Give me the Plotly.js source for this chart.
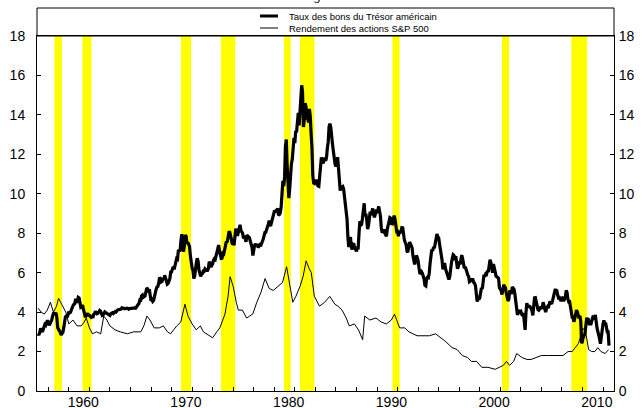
<!DOCTYPE html>
<html>
<head>
<meta charset="utf-8">
<script src="https://cdn.plot.ly/plotly-3.0.1.min.js"></script>
<style>
html,body{margin:0;padding:0;background:#fff;}
#chart{width:644px;height:408px;}
</style>
</head>
<body>
<div id="chart"></div>
<script>
// Recession periods
var recStart = [1957.6, 1960.33, 1969.92, 1973.8, 1979.95, 1981.5, 1990.5, 2001.17, 2007.92];
var recEnd   = [1958.33, 1961.2, 1970.9, 1975.2, 1980.6, 1982.9, 1991.2, 2001.85, 2009.45];

// US Treasury yield (%), monthly, from January 1956 (one row per year)
var tStartYear = 1956;
var tValues = [
2.90,2.84,2.96,3.18,3.07,3.00,3.11,3.33,3.38,3.34,3.49,3.59,
3.46,3.34,3.41,3.48,3.60,3.80,3.93,3.93,3.92,3.97,3.72,3.21,
3.09,3.05,2.98,2.84,2.92,2.97,3.20,3.54,3.76,3.80,3.74,3.86,
4.02,3.96,3.99,4.12,4.31,4.34,4.40,4.43,4.68,4.53,4.53,4.75,
4.72,4.49,4.25,4.28,4.35,4.15,3.90,3.80,3.80,3.89,3.93,3.84,
3.84,3.78,3.74,3.78,3.71,3.88,3.92,4.04,3.98,3.92,3.94,4.06,
4.08,4.04,3.93,3.84,3.87,3.91,4.01,3.98,3.98,3.93,3.92,3.86,
3.83,3.92,3.93,3.97,3.93,3.99,4.02,4.00,4.08,4.11,4.12,4.13,
4.17,4.15,4.22,4.23,4.20,4.17,4.19,4.19,4.20,4.19,4.15,4.18,
4.19,4.21,4.21,4.20,4.21,4.21,4.20,4.25,4.29,4.35,4.45,4.62,
4.61,4.83,4.87,4.75,4.78,4.81,5.02,5.22,5.18,5.01,5.16,4.84,
4.58,4.63,4.54,4.59,4.85,5.02,5.16,5.28,5.30,5.48,5.75,5.70,
5.53,5.56,5.74,5.64,5.87,5.72,5.50,5.42,5.46,5.58,5.70,6.03,
6.04,6.19,6.30,6.17,6.32,6.57,6.72,6.69,7.16,7.10,7.14,7.65,
7.95,7.24,7.07,7.39,7.91,7.84,7.46,7.53,7.39,7.33,6.84,6.39,
6.24,6.11,5.70,5.83,6.39,6.52,6.73,6.58,6.14,5.93,5.81,5.93,
5.95,6.08,6.07,6.19,6.13,6.11,6.11,6.21,6.55,6.48,6.28,6.36,
6.46,6.64,6.71,6.67,6.85,6.90,7.13,7.40,7.09,6.79,6.73,6.74,
6.99,6.96,7.21,7.51,7.58,7.54,7.81,8.04,8.04,7.90,7.68,7.43,
7.50,7.39,7.73,8.23,8.06,7.86,8.06,8.40,8.43,8.14,8.05,8.00,
7.74,7.79,7.73,7.56,7.90,7.86,7.83,7.77,7.59,7.41,7.29,6.87,
7.21,7.39,7.46,7.37,7.46,7.28,7.33,7.40,7.34,7.52,7.58,7.69,
7.96,8.03,8.04,8.15,8.35,8.46,8.64,8.41,8.42,8.64,8.81,9.01,
9.10,9.10,9.12,9.18,9.25,8.91,8.95,9.03,9.33,10.30,10.65,10.39,
10.80,12.41,12.75,11.47,10.18,9.78,10.25,11.10,11.51,11.75,12.68,12.84,
12.57,13.19,13.12,13.68,14.10,13.47,14.28,14.94,15.50,15.15,13.39,13.72,
14.59,14.43,13.86,13.87,13.62,14.30,13.95,13.06,12.34,10.91,10.55,10.54,
10.46,10.72,10.51,10.40,10.38,10.85,11.38,11.85,11.65,11.54,11.69,11.83,
11.67,11.84,12.32,12.63,13.41,13.56,13.36,12.72,12.52,12.16,11.57,11.50,
11.38,11.51,11.86,11.43,10.85,10.16,10.31,10.33,10.37,10.24,9.78,9.26,
9.19,8.70,7.78,7.30,7.71,7.80,7.30,7.17,7.45,7.43,7.25,7.11,
7.08,7.25,7.25,8.02,8.61,8.40,8.45,8.76,9.42,9.52,8.86,8.99,
8.67,8.21,8.37,8.72,9.09,8.92,9.06,9.26,8.98,8.80,8.96,9.11,
9.09,9.17,9.36,9.18,8.86,8.28,8.02,8.11,8.19,8.01,7.87,7.84,
8.21,8.47,8.59,8.79,8.76,8.48,8.47,8.75,8.89,8.72,8.39,8.08,
8.09,7.85,8.11,8.04,8.07,8.28,8.27,7.90,7.65,7.53,7.42,7.09,
7.03,7.34,7.54,7.48,7.39,7.26,6.84,6.59,6.42,6.59,6.87,6.77,
6.60,6.26,5.98,5.97,6.04,5.96,5.81,5.68,5.36,5.33,5.72,5.77,
5.75,5.97,6.48,6.97,7.18,7.10,7.30,7.24,7.46,7.74,7.96,7.81,
7.78,7.47,7.20,7.06,6.63,6.17,6.28,6.49,6.20,6.04,5.93,5.71,
5.65,5.81,6.27,6.51,6.74,6.91,6.87,6.64,6.83,6.53,6.20,6.30,
6.58,6.42,6.69,6.89,6.71,6.49,6.22,6.30,6.21,6.03,5.88,5.81,
5.54,5.57,5.65,5.64,5.65,5.50,5.46,5.34,4.81,4.53,4.83,4.65,
4.72,5.00,5.23,5.18,5.54,5.90,5.79,5.94,5.92,6.11,6.03,6.28,
6.66,6.52,6.26,5.99,6.44,6.10,6.05,5.83,5.80,5.74,5.72,5.24,
5.16,5.10,4.89,5.14,5.39,5.28,5.24,4.97,4.73,4.57,4.65,5.09,
5.04,4.91,5.28,5.21,5.16,4.93,4.65,4.26,3.87,3.94,4.05,4.03,
4.05,3.90,3.81,3.96,3.57,3.10,3.98,4.45,4.27,4.29,4.30,4.27,
4.15,4.08,3.83,4.35,4.72,4.73,4.50,4.28,4.13,4.10,4.19,4.23,
4.22,4.17,4.50,4.34,4.14,4.00,4.18,4.26,4.20,4.46,4.54,4.47,
4.42,4.57,4.72,4.99,5.11,5.11,5.09,4.88,4.72,4.73,4.60,4.56,
4.76,4.72,4.56,4.69,4.75,5.10,5.00,4.67,4.52,4.53,4.15,4.10,
3.74,3.74,3.51,3.68,3.88,4.10,4.01,3.89,3.69,3.81,3.53,2.42,
2.52,2.87,2.82,2.93,3.29,3.72,3.56,3.59,3.40,3.39,3.40,3.59,
3.73,3.69,3.73,3.85,3.42,3.20,3.01,2.70,2.65,2.40,2.76,3.29,
3.39,3.58,3.41,3.46,3.17,3.00,3.00,2.30];

// S&P 500 dividend yield (%)
var dYears = [1956.0,1956.3,1956.6,1956.9,1957.2,1957.5,1957.8,1958.0,1958.3,1958.7,1959.0,1959.4,1959.8,1960.2,1960.5,1960.7,1961.0,1961.3,1961.7,1962.1,1962.4,1962.7,1963.0,
1963.5,1964.0,1964.7,1965.3,1966.0,1966.3,1966.6,1966.9,1967.3,1967.8,1968.2,1968.6,1968.9,1969.2,1969.5,1969.9,1970.3,1970.6,1971.0,1971.4,1971.8,1972.1,1972.4,1972.7,1973.0,
1973.4,1973.7,1974.2,1974.5,1974.7,1975.0,1975.3,1975.5,1975.9,1976.3,1976.6,1976.9,1977.3,1977.7,1978.1,1978.5,1978.9,1979.3,1979.8,1980.2,1980.5,1980.8,1981.1,1981.5,1981.8,1982.1,1982.4,1982.6,1982.9,
1983.4,1983.9,1984.4,1984.9,1985.2,1985.6,1986.0,1986.3,1986.8,1987.2,1987.6,1987.8,1988.3,1988.9,1989.4,1989.9,1990.4,1990.7,1991.2,1991.7,1992.1,1992.9,
1993.5,1994.1,1994.7,1995.2,1995.7,1996.3,1996.8,1997.3,1997.8,1998.2,1998.7,1999.2,1999.8,2000.5,2001.0,2001.3,2001.6,2001.9,2002.3,2002.6,2003.1,
2003.6,2004.0,2004.5,2005.0,2005.6,2006.1,2006.6,2007.1,2007.6,2008.0,2008.3,2008.6,2008.9,2009.0,2009.3,2009.6,2009.9,2010.2,2010.5,2010.8,2011.2,2011.55];
var dValues = [4.2,4.0,3.9,4.1,4.5,4.0,4.3,4.7,4.4,4.0,3.4,3.6,3.3,3.3,3.5,3.7,3.2,2.9,3.0,2.9,3.8,3.6,3.3,
3.1,3.0,2.9,3.0,3.0,3.3,3.8,3.6,3.2,3.2,3.3,3.0,2.9,3.1,3.3,3.5,4.4,3.8,3.4,3.1,3.3,3.0,2.9,2.8,2.7,
3.0,3.2,3.9,4.8,5.8,5.3,4.5,4.1,4.1,3.7,3.8,3.9,4.5,5.0,5.7,5.2,5.1,5.3,5.5,6.3,5.3,4.5,4.8,5.3,5.8,6.6,6.2,6.0,4.8,
4.3,4.5,4.8,4.4,4.3,4.1,3.7,3.3,3.4,3.1,2.6,3.8,3.6,3.7,3.5,3.4,3.6,3.9,3.2,3.2,3.0,2.8,
2.8,2.8,2.9,2.7,2.5,2.2,2.1,1.8,1.7,1.5,1.5,1.2,1.2,1.1,1.2,1.3,1.5,1.3,1.5,1.9,1.7,
1.6,1.6,1.7,1.8,1.8,1.8,1.8,1.8,2.0,2.0,2.2,2.4,2.9,3.2,3.0,2.1,2.0,2.0,2.2,2.0,1.9,2.1];

// Axis labels
var yTickVals = [0,2,4,6,8,10,12,14,16,18];
var xTickVals = [1960.4,1970.4,1980.4,1990.4,2000.4,2010.4];
var xTickText = ['1960','1970','1980','1990','2000','2010'];
var xMinorTicks = [1957,1959,1961,1963,1965,1967,1969,1971,1973,1975,1977,1979,1981,1983,1985,1987,1989,1991,1993,1995,1997,1999,2001,2003,2005,2007,2009,2011];

var legendNames = ['Taux des bons du Trésor américain', 'Rendement des actions S&P 500'];
var titleText = 'Rendements à long terme';

var tYears = tValues.map(function (v, i) { return tStartYear + i / 12; });

var FONT = 'Liberation Sans, Arial, sans-serif';

var traces = [
  {x: tYears, y: tValues, type: 'scatter', mode: 'lines', name: legendNames[0],
   line: {color: '#000', width: 3.2}, showlegend: false},
  {x: dYears, y: dValues, type: 'scatter', mode: 'lines', name: legendNames[1],
   line: {color: '#000', width: 1}, showlegend: false},
  {x: [1956], y: [0], yaxis: 'y2', type: 'scatter', mode: 'markers', marker: {opacity: 0}, showlegend: false, hoverinfo: 'skip'}
];

var shapes = [];
for (var i = 0; i < recStart.length; i++) {
  shapes.push({type: 'rect', xref: 'x', yref: 'paper', x0: recStart[i], x1: recEnd[i], y0: 0, y1: 1,
    fillcolor: '#FFFF00', line: {width: 0}, layer: 'below'});
}
var plotH = 408 - 36 - 17;
shapes.push({type: 'rect', xref: 'paper', yref: 'paper', x0: 0, x1: 1, y0: 1, y1: 1 + 28/plotH,
  line: {color: '#000', width: 1}, fillcolor: 'rgba(0,0,0,0)'});
var sx0 = (260 - 37) / 577, sx1 = (278 - 37) / 577;
shapes.push({type: 'line', xref: 'paper', yref: 'paper', x0: sx0, x1: sx1, y0: 1 + (36-16)/plotH, y1: 1 + (36-16)/plotH,
  line: {color: '#000', width: 3}});
shapes.push({type: 'line', xref: 'paper', yref: 'paper', x0: sx0, x1: sx1, y0: 1 + (36-28)/plotH, y1: 1 + (36-28)/plotH,
  line: {color: '#000', width: 1}});

var annotations = [
  {xref: 'paper', yref: 'paper', x: (287-37)/577, y: 1 + (36-5.5)/plotH, xanchor: 'center', yanchor: 'bottom',
   text: '<i>' + titleText + '</i>', showarrow: false, font: {family: 'Liberation Serif, Times New Roman, serif', size: 13, color: '#000'}},
  {xref: 'paper', yref: 'paper', x: (287-37)/577, y: 1 + (36-16)/plotH, xanchor: 'left', yanchor: 'middle',
   text: legendNames[0], showarrow: false, font: {family: FONT, size: 9.5, color: '#000'}},
  {xref: 'paper', yref: 'paper', x: (287-37)/577, y: 1 + (36-28)/plotH, xanchor: 'left', yanchor: 'middle',
   text: legendNames[1].replace('&', '&amp;'), showarrow: false, font: {family: FONT, size: 9.5, color: '#000'}}
];

var layout = {
  width: 644, height: 408,
  margin: {l: 37, r: 30, t: 36, b: 17, pad: 0},
  paper_bgcolor: '#fff', plot_bgcolor: '#fff',
  font: {family: FONT, size: 14, color: '#000'},
  showlegend: false,
  xaxis: {
    range: [1955.9, 2012.07], showgrid: false, zeroline: false,
    tickmode: 'array', tickvals: xTickVals, ticktext: xTickText, ticks: '',
    showline: true, linecolor: '#000', linewidth: 1, mirror: true,
    ticklabelstandoff: -2,
    tickfont: {family: FONT, size: 14, color: '#000'},
    minor: {tickmode: 'array', tickvals: xMinorTicks, ticks: 'inside', ticklen: 4, tickcolor: '#000', tickwidth: 1, showgrid: false}
  },
  yaxis: {
    range: [0, 18], showgrid: false, zeroline: false,
    tickmode: 'array', tickvals: yTickVals, ticks: 'inside', ticklen: 4, tickcolor: '#000',
    showline: true, linecolor: '#000', linewidth: 1,
    ticklabelstandoff: 8,
    tickfont: {family: FONT, size: 14, color: '#000'}
  },
  yaxis2: {
    range: [0, 18], overlaying: 'y', side: 'right', showgrid: false, zeroline: false,
    tickmode: 'array', tickvals: yTickVals, ticks: 'inside', ticklen: 4, tickcolor: '#000',
    showline: true, linecolor: '#000', linewidth: 1,
    ticklabelstandoff: 1,
    tickfont: {family: FONT, size: 14, color: '#000'}
  },
  shapes: shapes,
  annotations: annotations
};

Plotly.newPlot('chart', traces, layout, {displayModeBar: false, staticPlot: true});
</script>
</body>
</html>
